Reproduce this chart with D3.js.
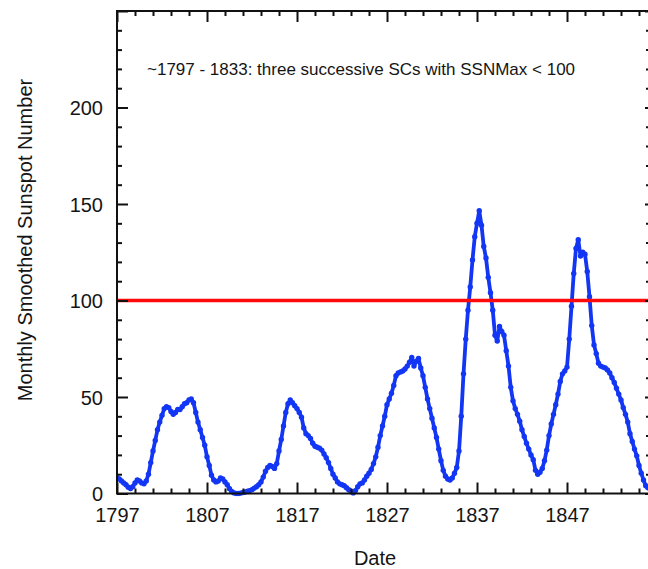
<!DOCTYPE html>
<html>
<head>
<meta charset="utf-8">
<script src="https://cdn.jsdelivr.net/npm/d3@7"></script>
<style>
  html, body { margin: 0; padding: 0; background: #fff; }
  svg { display: block; }
  text { font-family: "Liberation Sans", Arial, sans-serif; fill: #151515; }
</style>
</head>
<body>
<svg id="chart" width="648" height="569"></svg>
<script>
// Monthly smoothed sunspot number, sampled every quarter year from 1797.0
const startYear = 1797;
const samplesPerYear = 4;
const ssn = [
  8.2, 7.5, 6.5, 5.5,      // 1797
  4.5, 3.2, 2.6, 3.5,      // 1798
  5.5, 7.0, 6.5, 5.5,      // 1799
  5.0, 6.5, 10.0, 16.0,    // 1800
  22.0, 27.5, 33.0, 37.0,  // 1801
  40.5, 44.0, 45.0, 44.5,  // 1802
  42.5, 41.0, 42.0, 43.5,  // 1803
  43.5, 45.0, 46.5, 47.0,  // 1804
  48.5, 49.0, 47.0, 42.0,  // 1805
  37.0, 33.0, 29.0, 25.0,  // 1806
  19.0, 14.5, 9.5, 7.0,    // 1807
  6.0, 6.5, 8.0, 7.5,      // 1808
  6.0, 4.5, 2.5, 1.0,      // 1809
  0.3, 0.0, 0.0, 0.2,      // 1810
  0.5, 0.8, 1.2, 1.5,      // 1811
  2.0, 2.8, 3.5, 4.5,      // 1812
  6.0, 8.5, 11.5, 13.5,    // 1813
  14.5, 14.0, 13.0, 15.5,  // 1814
  22.0, 28.0, 35.0, 42.0,  // 1815
  46.5, 48.5, 47.0, 45.5,  // 1816
  44.0, 42.0, 39.5, 34.0,  // 1817
  31.0, 30.0, 28.5, 26.0,  // 1818
  24.5, 24.0, 23.5, 22.5,  // 1819
  20.5, 18.5, 16.0, 13.0,  // 1820
  10.0, 8.0, 6.0, 5.0,     // 1821
  4.5, 4.0, 3.0, 2.0,      // 1822
  1.0, 0.3, 1.5, 3.5,      // 1823
  5.0, 5.5, 7.0, 9.0,      // 1824
  10.5, 12.5, 15.5, 19.0,  // 1825
  24.0, 30.0, 35.0, 40.0,  // 1826
  46.0, 49.0, 52.0, 56.0,  // 1827
  61.0, 62.5, 63.0, 63.5,  // 1828
  64.5, 66.0, 68.0, 70.5,  // 1829
  66.0, 68.5, 70.0, 65.0,  // 1830
  61.0, 55.0, 49.0, 44.0,  // 1831
  39.0, 34.0, 29.0, 23.0,  // 1832
  17.0, 12.0, 9.0, 7.5,    // 1833
  7.0, 8.0, 10.5, 13.5,    // 1834
  22.0, 40.0, 62.0, 80.0,  // 1835
  95.0, 107.0, 121.0, 133.0, // 1836
  140.0, 146.5, 139.0, 128.0, // 1837
  122.0, 112.0, 104.0, 95.0,  // 1838
  82.0, 79.0, 86.5, 84.0,  // 1839
  82.0, 74.0, 66.0, 55.0,  // 1840
  48.0, 44.0, 41.0, 37.5,  // 1841
  33.0, 29.5, 26.0, 23.0,  // 1842
  20.0, 17.5, 12.0, 10.0,  // 1843
  11.0, 13.0, 17.0, 22.5,  // 1844
  30.0, 36.0, 41.0, 46.0,  // 1845
  51.5, 58.0, 62.0, 63.5,  // 1846
  65.5, 80.0, 97.0, 114.0, // 1847
  127.0, 131.5, 123.0, 125.0, // 1848
  124.0, 115.0, 102.0, 87.0,  // 1849
  77.0, 72.5, 67.5, 66.0,  // 1850
  65.5, 65.0, 64.0, 62.5,  // 1851
  60.0, 57.5, 54.5, 51.5,  // 1852
  48.5, 44.5, 41.0, 37.0,  // 1853
  31.0, 27.0, 23.0, 19.5,  // 1854
  14.5, 10.5, 7.0, 4.0,    // 1855
  3.0                      // 1856
];

const xDomain = [1797, 1856];
const yDomain = [0, 250];
const xMajorTicks = [1797, 1807, 1817, 1827, 1837, 1847];
const xMinorStep = 2;
const yMajorTicks = [0, 50, 100, 150, 200, 250];
const yLabelTicks = [0, 50, 100, 150, 200];
const yMinorStep = 10;
const threshold = 100;

const yTitle = "Monthly Smoothed Sunspot Number";
const xTitle = "Date";
const note = "~1797 - 1833: three successive SCs with SSNMax < 100";

const data = ssn.map((v, i) => ({ t: startYear + i / samplesPerYear, v }));

const svg = d3.select("#chart");
const plotLeft = 117, plotRight = 648, plotTop = 11, plotBottom = 493.5;
const frameRight = 651;

const x = d3.scaleLinear().domain(xDomain).range([plotLeft, plotRight]);
const y = d3.scaleLinear().domain(yDomain).range([plotBottom, plotTop]);

const xMinor = d3.range(xDomain[0], xDomain[1] + 0.001, xMinorStep).filter(t => !xMajorTicks.includes(t));
const yMinor = d3.range(yDomain[0], yDomain[1] + 0.001, yMinorStep).filter(t => !yMajorTicks.includes(t));

const plot = svg.append("g");

// data curve: line plus a dot on each sample
svg.append("clipPath").attr("id", "plotclip")
  .append("rect").attr("x", plotLeft).attr("y", plotTop)
  .attr("width", frameRight - plotLeft).attr("height", plotBottom - plotTop + 3);

const curveColor = "#1236f4";
const curve = plot.append("g").attr("clip-path", "url(#plotclip)");
curve.append("path")
  .datum(data)
  .attr("fill", "none")
  .attr("stroke", curveColor)
  .attr("stroke-width", 3.8)
  .attr("stroke-linejoin", "round")
  .attr("d", d3.line().x(d => x(d.t)).y(d => y(d.v)));
curve.selectAll("circle")
  .data(data)
  .join("circle")
  .attr("cx", d => x(d.t))
  .attr("cy", d => y(d.v))
  .attr("r", 2.7)
  .attr("fill", curveColor);

// threshold line
plot.append("line")
  .attr("x1", plotLeft).attr("x2", frameRight)
  .attr("y1", y(threshold)).attr("y2", y(threshold))
  .attr("stroke", "#ff0a0a")
  .attr("stroke-width", 3.5);

// frame axes with inward ticks
function frameAxis(axisFn, scale, ticks, len, labels) {
  return axisFn(scale).tickValues(ticks).tickSizeInner(-len).tickSizeOuter(0)
    .tickFormat(labels ? d3.format("d") : "");
}
function drawAxis(axisFn, transform, major, minor, labelsOn, minorLen, majorLen) {
  const scale = (axisFn === d3.axisBottom || axisFn === d3.axisTop) ? x : y;
  const gMinor = svg.append("g").attr("transform", transform)
    .call(frameAxis(axisFn, scale, minor, minorLen, false));
  const gMajor = svg.append("g").attr("transform", transform)
    .call(frameAxis(axisFn, scale, major, majorLen, labelsOn));
  [gMinor, gMajor].forEach(g => {
    g.select(".domain").remove();
    g.selectAll(".tick line").attr("stroke", "#111").attr("stroke-width", 2);
  });
  return gMajor;
}

const gBottom = drawAxis(d3.axisBottom, `translate(0,${plotBottom})`, xMajorTicks, xMinor, true, 5, 11);
gBottom.selectAll(".tick text").attr("font-size", 20).attr("y", 14).attr("dy", "0.71em");
drawAxis(d3.axisTop, `translate(0,${plotTop})`, xMajorTicks, xMinor, false, 5, 11);

const gLeft = drawAxis(d3.axisLeft, `translate(${plotLeft},0)`, yMajorTicks, yMinor, true, 5, 11);
gLeft.selectAll(".tick")
  .filter(d => !yLabelTicks.includes(d)).select("text").remove();
gLeft.selectAll(".tick text").attr("font-size", 20).attr("x", -14).attr("dy", "0.36em");
drawAxis(d3.axisRight, `translate(${frameRight},0)`, yMajorTicks, yMinor, false, 5, 6);

// frame
svg.append("rect")
  .attr("x", plotLeft).attr("y", plotTop)
  .attr("width", frameRight - plotLeft).attr("height", plotBottom - plotTop)
  .attr("fill", "none").attr("stroke", "#111").attr("stroke-width", 2);

// titles
svg.append("text")
  .attr("x", 375).attr("y", 565)
  .attr("text-anchor", "middle").attr("font-size", 20)
  .text(xTitle);
svg.append("text")
  .attr("transform", "translate(32,240) rotate(-90)")
  .attr("text-anchor", "middle").attr("font-size", 20)
  .text(yTitle);
svg.append("text")
  .attr("x", 147).attr("y", 75)
  .attr("font-size", 17)
  .text(note);
</script>
</body>
</html>
